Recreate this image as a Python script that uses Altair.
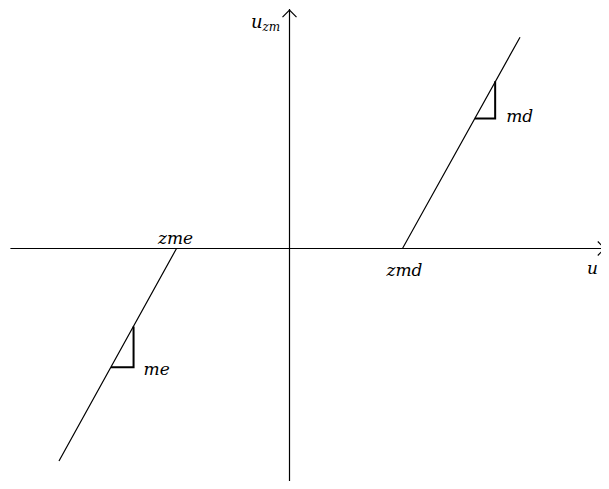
import altair as alt
import pandas as pd

# ---- chart values ----
zme = -1.0          # left dead-zone limit
zmd = 1.0           # right dead-zone limit
curve_u = [-2.04, zme, zmd, 2.04]
curve_uzm = [-1.88, 0.0, 0.0, 1.87]

tri_md_u = [1.64, 1.82, 1.82]
tri_md_uzm = [1.15, 1.15, 1.48]
tri_me_u = [-1.58, -1.38, -1.38]
tri_me_uzm = [-1.05, -1.05, -0.69]

axis_u_ext = [-2.47, 2.76]
axis_uzm_ext = [-2.06, 2.12]

FONT = "DejaVu Serif"

xs = alt.Scale(domain=[-2.4912, 2.7566], nice=False, zero=False)
ys = alt.Scale(domain=[-2.0575, 2.1283], nice=False, zero=False)

curve = pd.DataFrame({"u": curve_u, "uzm": curve_uzm, "i": range(len(curve_u))})
tri = pd.DataFrame({
    "u": tri_md_u + tri_me_u,
    "uzm": tri_md_uzm + tri_me_uzm,
    "g": ["md"] * 3 + ["me"] * 3,
    "i": list(range(3)) * 2,
})
haxis = pd.DataFrame({"u": [axis_u_ext[0]], "u2": [axis_u_ext[1]], "uzm": [0.0]})
vaxis = pd.DataFrame({"u": [0.0], "uzm": [axis_uzm_ext[0]], "uzm2": [axis_uzm_ext[1]]})

X = alt.X("u:Q", scale=xs, axis=None)
Y = alt.Y("uzm:Q", scale=ys, axis=None)

h_rule = alt.Chart(haxis).mark_rule(color="black", strokeWidth=1.2).encode(
    x=X, x2="u2:Q", y=Y)
v_rule = alt.Chart(vaxis).mark_rule(color="black", strokeWidth=1.2).encode(
    x=X, y=Y, y2="uzm2:Q")

up_arrow = alt.Chart(pd.DataFrame({"u": [0.0], "uzm": [axis_uzm_ext[1] - 0.01]})).mark_point(
    shape="M-1,1L0,0L1,1", size=196, filled=False, color="black", strokeWidth=1.2, opacity=1
).encode(x=X, y=Y)
right_arrow = alt.Chart(pd.DataFrame({"u": [axis_u_ext[1] + 0.03], "uzm": [0.0]})).mark_point(
    shape="M-1,-1L0,0L-1,1", size=196, filled=False, color="black", strokeWidth=1.2, opacity=1
).encode(x=X, y=Y)

line = alt.Chart(curve).mark_line(color="black", strokeWidth=1.2).encode(
    x=X, y=Y, order="i:O")

tris = alt.Chart(tri).mark_line(color="black", strokeWidth=2).encode(
    x=X, y=Y, detail="g:N", order="i:O")

def label(text, u, uzm, dx, dy, align="center", size=17):
    return alt.Chart(pd.DataFrame({"u": [u], "uzm": [uzm], "t": [text]})).mark_text(
        font=FONT, fontStyle="italic", fontSize=size, align=align,
        baseline="alphabetic", dx=dx, dy=dy, color="black"
    ).encode(x=X, y=Y, text="t:N")

labels = [
    label("zme", zme, 0.0, -1, -5),
    label("zmd", zmd, 0.0, 2, 27),
    label("md", tri_md_u[1], tri_md_uzm[1], 11, 3, align="left"),
    label("me", tri_me_u[1], tri_me_uzm[1], 10, 8, align="left"),
    label("u", axis_u_ext[1], 0.0, -9, 25),
    label("u", 0.0, axis_uzm_ext[1], -27, 19, align="right", size=18),
    label("zm", 0.0, axis_uzm_ext[1], -27, 22, align="left", size=12),
]

chart = alt.layer(h_rule, v_rule, up_arrow, right_arrow, line, tris, *labels).properties(
    width=593, height=473, padding=0, autosize=alt.AutoSizeParams(type="none"),
    background="white",
).configure_view(stroke=None)

chart.save("out.html", embed_options={"renderer": "svg", "actions": False})
